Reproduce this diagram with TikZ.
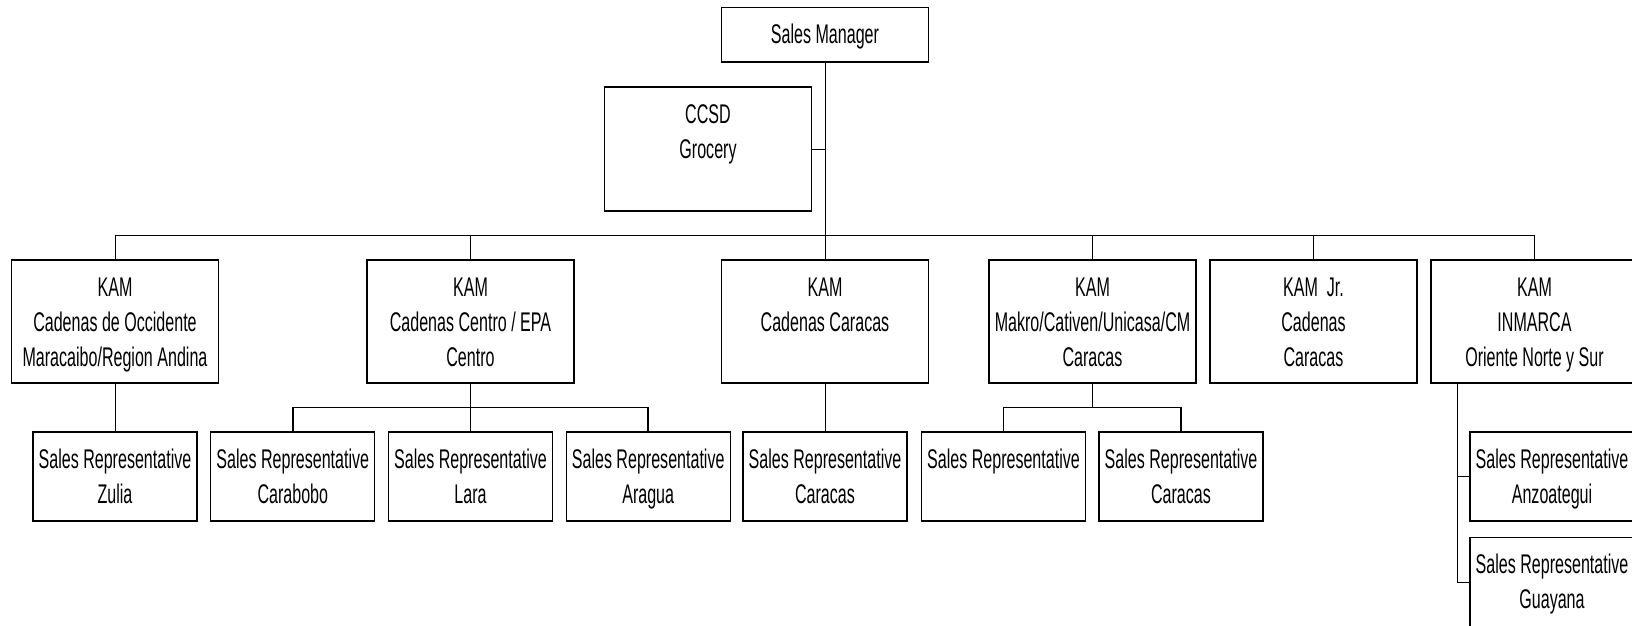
\documentclass[tikz,border=0pt]{standalone}
\usepackage{fontspec}
\setmainfont{Liberation Sans}[FakeStretch=0.595]
\newcommand\orgtext[3]{\parbox[c][#2pt][t]{#1pt}{\centering\fontsize{27}{35}\selectfont\rule{0pt}{36pt}#3}}
\tikzset{
  orgbox/.style={draw, line width=1.2pt, inner sep=0pt, outer sep=0pt, fill=white},
  conn/.style={line width=1pt},
  subbus/.style={line width=1.5pt}
}
\begin{document}
\begin{tikzpicture}[x=1pt,y=-1pt]
\fill[white] (0,0) rectangle (1632,626);
\useasboundingbox (0,0) rectangle (1632,626);
% top
\node[orgbox] (sm) at (825,34.75) {\orgtext{207}{54.5}{Sales Manager}};
\node[orgbox] (ccsd) at (708,149) {\orgtext{207.5}{124}{CCSD\\Grocery}};
% KAM row
\node[orgbox] (kam1) at (115,321.5) {\orgtext{207}{123}{KAM\\Cadenas de Occidente\\Maracaibo/Region Andina}};
\node[orgbox] (kam2) at (470.5,321.5) {\orgtext{207}{123}{KAM\\Cadenas Centro / EPA\\Centro}};
\node[orgbox] (kam3) at (825,321.5) {\orgtext{207}{123}{KAM\\Cadenas Caracas}};
\node[orgbox] (kam4) at (1092.5,321.5) {\orgtext{207}{123}{KAM\\Makro/Cativen/Unicasa/CM\\Caracas}};
\node[orgbox] (kam5) at (1313.5,321.5) {\orgtext{207}{123}{KAM~~Jr.\\Cadenas\\Caracas}};
\node[orgbox] (kam6) at (1534.5,321.5) {\orgtext{207}{123}{KAM\\INMARCA\\Oriente Norte y Sur}};
% Sales reps
\node[orgbox] (rep1) at (115,476.5) {\orgtext{164}{89}{Sales Representative\\Zulia}};
\node[orgbox] (rep2) at (292.8,476.5) {\orgtext{164}{89}{Sales Representative\\Carabobo}};
\node[orgbox] (rep3) at (470.5,476.5) {\orgtext{164}{89}{Sales Representative\\Lara}};
\node[orgbox] (rep4) at (648.2,476.5) {\orgtext{164}{89}{Sales Representative\\Aragua}};
\node[orgbox] (rep5) at (825,476.5) {\orgtext{164}{89}{Sales Representative\\Caracas}};
\node[orgbox] (rep6) at (1003.5,476.5) {\orgtext{164}{89}{Sales Representative}};
\node[orgbox] (rep7) at (1181,476.5) {\orgtext{164}{89}{Sales Representative\\Caracas}};
\node[orgbox] (anz) at (1552,476.5) {\orgtext{164}{89}{Sales Representative\\Anzoategui}};
\node[orgbox] (guy) at (1552,582.2) {\orgtext{164}{89}{Sales Representative\\Guayana}};
% connectors
\draw[conn] (sm.south) -- (kam3.north);
\draw[conn] (ccsd.east) -- (ccsd.east -| sm.south);
\draw[conn] (kam1.north) -- ++(0,-25) -| (kam6.north);
\draw[conn] (kam2.north) -- ++(0,-25);
\draw[conn] (kam4.north) -- ++(0,-25);
\draw[conn] (kam5.north) -- ++(0,-25);
\draw[conn] (kam1.south) -- (rep1.north);
\draw[conn] (kam2.south) -- (rep3.north);
\draw[subbus] (rep2.north) -- ++(0,-24.3) -| (rep4.north);
\draw[conn] (kam3.south) -- (rep5.north);
\draw[conn] (kam4.south) -- ++(0,24.7);
\draw[subbus] (rep6.north) -- ++(0,-24.3) -| (rep7.north);
\coordinate (itop) at ([xshift=26.8pt]kam6.south west);
\draw[conn] (itop) |- (guy.west);
\draw[conn] (itop |- anz.west) -- (anz.west);
\end{tikzpicture}
\end{document}
